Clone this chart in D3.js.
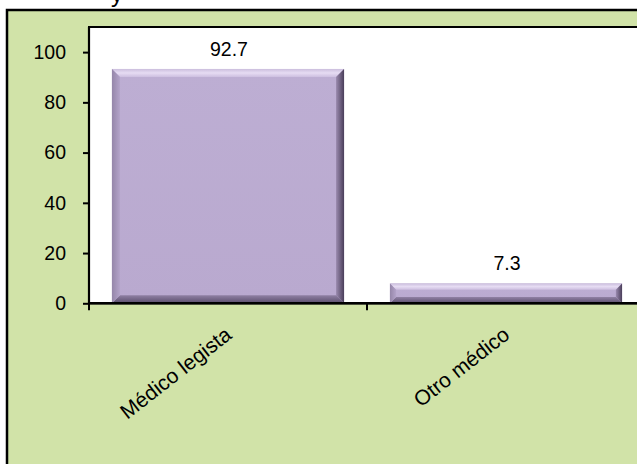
<!DOCTYPE html>
<html>
<head>
<meta charset="utf-8">
<script src="https://cdn.jsdelivr.net/npm/d3@7"></script>
<style>
  html, body { margin: 0; padding: 0; background: #ffffff; }
  svg { display: block; }
  text { font-family: "Liberation Sans", Arial, sans-serif; fill: #000; }
</style>
</head>
<body>
<div id="chart"></div>
<script>
const categories = ["Médico legista", "Otro médico"];
const values = [92.7, 7.3];
const valueLabels = ["92.7", "7.3"];
const yTicks = [0, 20, 40, 60, 80, 100];
const yDomain = [0, 110];
const titleFragment = "y";

const W = 637, H = 464;
const svg = d3.select("#chart").append("svg").attr("width", W).attr("height", H);

const plotLeft = 89, plotTop = 27, plotBottom = 303.3, plotRight = 645;

// chart area (green)
svg.append("rect").attr("x", 7).attr("y", 10).attr("width", 700).attr("height", 500)
  .attr("fill", "#D1E3A8").attr("stroke", "#000").attr("stroke-width", 2.5);

// cut-off title fragment (the reference shows only its lower part)
svg.append("text").attr("x", 111).attr("y", 2).attr("font-size", 24).text(titleFragment);

// plot area
svg.append("rect").attr("x", plotLeft).attr("y", plotTop).attr("width", 700)
  .attr("height", plotBottom - plotTop).attr("fill", "#fff").attr("stroke", "#000").attr("stroke-width", 2);

const x = d3.scaleBand().domain(categories).range([plotLeft, plotRight])
  .paddingInner(0.165).paddingOuter(0.0825);
const y = d3.scaleLinear().domain(yDomain).range([plotBottom, plotTop]);

// gradients
const defs = svg.append("defs");
function lin(id, x1, y1, x2, y2, stops) {
  const g = defs.append("linearGradient").attr("id", id)
    .attr("x1", x1).attr("y1", y1).attr("x2", x2).attr("y2", y2);
  stops.forEach(s => g.append("stop").attr("offset", s[0]).attr("stop-color", s[1]));
}
lin("gTop", 0, 0, 0, 1, [[0, "#CBBEDD"], [0.5, "#E6DCF3"], [1, "#CDBFE0"]]);
lin("gBot", 0, 0, 0, 1, [[0, "#8F80A3"], [1, "#5A4D6B"]]);
lin("gRight", 0, 0, 1, 0, [[0, "#9A8AAE"], [1, "#4A3E5A"]]);
lin("gLeft", 0, 0, 1, 0, [[0, "#9586A9"], [1, "#B3A3C9"]]);
lin("gMain", 0, 0, 0, 1, [[0, "#BDAED3"], [1, "#B9A9CF"]]);

const bars = svg.append("g");
categories.forEach((c, i) => {
  const x0 = x(c), x1 = x(c) + x.bandwidth();
  const y0 = y(values[i]) - 1.5, y1 = y(0);
  const h = y1 - y0;
  const b = Math.min(8, h / 3.2);
  const g = bars.append("g");
  g.append("rect").attr("x", x0).attr("y", y0).attr("width", x1 - x0).attr("height", h).attr("fill", "url(#gMain)");
  const poly = pts => g.append("polygon").attr("points", pts.map(p => p.join(",")).join(" "));
  poly([[x0, y0], [x1, y0], [x1 - b, y0 + b], [x0 + b, y0 + b]]).attr("fill", "url(#gTop)");
  poly([[x0, y1], [x1, y1], [x1 - b, y1 - b], [x0 + b, y1 - b]]).attr("fill", "url(#gBot)");
  poly([[x0, y0], [x0 + b, y0 + b], [x0 + b, y1 - b], [x0, y1]]).attr("fill", "url(#gLeft)");
  poly([[x1, y0], [x1 - b, y0 + b], [x1 - b, y1 - b], [x1, y1]]).attr("fill", "url(#gRight)");
  // value label
  svg.append("text").attr("x", x0 + x.bandwidth() / 2 + 1).attr("y", y0 - 13)
    .attr("text-anchor", "middle").attr("font-size", 19.5).text(valueLabels[i]);
});

// y axis
const yAxis = d3.axisLeft(y).tickValues(yTicks).tickSize(6).tickPadding(17).tickFormat(d3.format("d"));
const yg = svg.append("g").attr("transform", `translate(${plotLeft},0)`).call(yAxis);
yg.select(".domain").remove();
yg.selectAll(".tick line").attr("stroke", "#000").attr("stroke-width", 2);
yg.selectAll(".tick text").attr("font-size", 19.5).attr("font-family", "Liberation Sans, Arial, sans-serif");

// y axis line
svg.append("line").attr("x1", plotLeft).attr("x2", plotLeft).attr("y1", plotTop).attr("y2", plotBottom)
  .attr("stroke", "#000").attr("stroke-width", 2.2);
// x axis line
svg.append("line").attr("x1", plotLeft).attr("x2", W + 5).attr("y1", plotBottom).attr("y2", plotBottom)
  .attr("stroke", "#000").attr("stroke-width", 2.5);

// x ticks between categories
const step = x.step(), halfGap = step * x.paddingInner() / 2;
const boundaries = categories.map(c => x(c) - halfGap).concat([x(categories[categories.length - 1]) + x.bandwidth() + halfGap]);
svg.append("g").selectAll("line").data(boundaries).join("line")
  .attr("x1", d => d).attr("x2", d => d).attr("y1", plotBottom).attr("y2", plotBottom + 7)
  .attr("stroke", "#000").attr("stroke-width", 2);

// x labels
svg.append("g").selectAll("text").data(categories).join("text")
  .attr("transform", d => `translate(${x(d) + x.bandwidth() / 2 + 5},${plotBottom + 34}) rotate(-38)`)
  .attr("text-anchor", "end").attr("font-size", 21).text(d => d);
</script>
</body>
</html>
